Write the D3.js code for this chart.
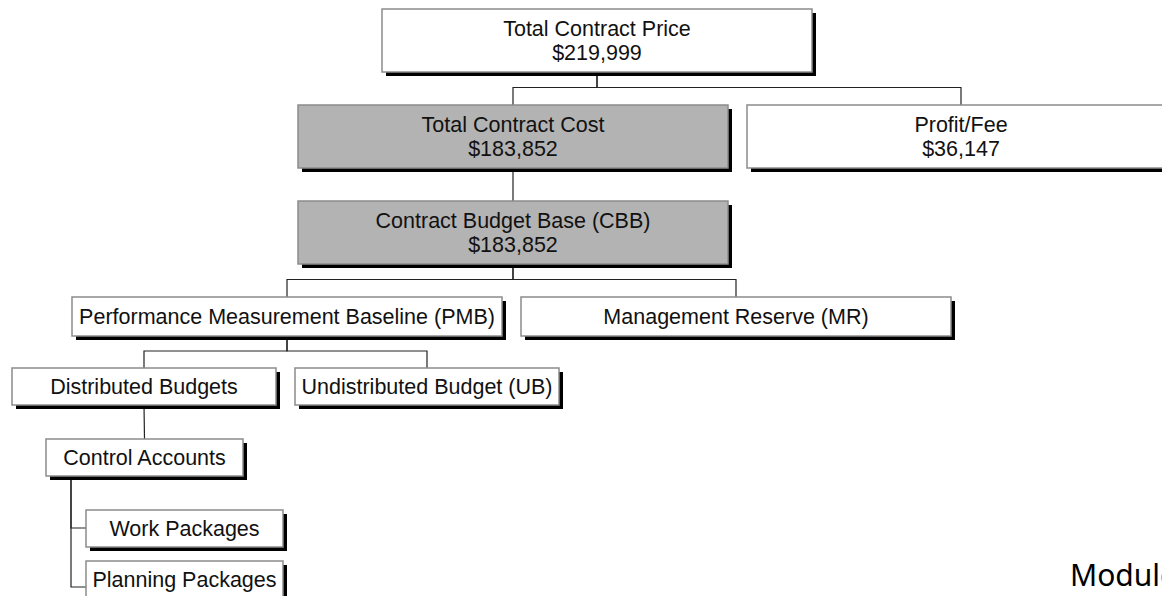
<!DOCTYPE html>
<html lang="en">
<head>
    <meta charset="UTF-8">
    <title>Contract Budget Breakdown</title>
    <script src="https://d3js.org/d3.v7.min.js"></script>
    <style>
        body { margin: 0; background: #fff; }
        .box-label {
            font-family: "Liberation Sans", Arial, sans-serif;
            font-size: 21.5px;
            fill: #111;
        }
        .footer {
            font-family: "Noto Sans", "Open Sans", sans-serif;
            font-size: 30px;
            fill: #000;
        }
    </style>
</head>
<body>
<script>
    // chart data
    const names = ["Total Contract Price", "Total Contract Cost", "Profit/Fee",
        "Contract Budget Base (CBB)", "Performance Measurement Baseline (PMB)",
        "Management Reserve (MR)", "Distributed Budgets", "Undistributed Budget (UB)",
        "Control Accounts", "Work Packages", "Planning Packages"];
    const amounts = ["$219,999", "$183,852", "$36,147", "$183,852",
        null, null, null, null, null, null, null];
    const parents = [null, 0, 0, 1, 3, 3, 4, 4, 6, 8, 8];
    const shaded = [false, true, false, true, false, false, false, false, false, false, false];
    const footerText = "Module";

    // layout (box left/top/width/height + how the connector joins it)
    const layout = [
        {x: 382, y: 9, w: 430, h: 63},
        {x: 298, y: 105, w: 430, h: 63},
        {x: 747, y: 105, w: 428, h: 63},
        {x: 298, y: 201, w: 430, h: 63},
        {x: 72, y: 297, w: 430, h: 39},
        {x: 521, y: 297, w: 430, h: 39},
        {x: 12, y: 368, w: 264, h: 37},
        {x: 295, y: 368, w: 264, h: 37},
        {x: 46, y: 439, w: 197, h: 37},
        {x: 86, y: 510, w: 197, h: 37, side: true, joinY: 528},
        {x: 86, y: 561, w: 197, h: 37, side: true, joinY: 587}
    ];
    const sideX = 71;   // vertical spine for side-attached children

    const width = 1162, height = 596;
    const svg = d3.select("body").append("svg")
        .attr("width", width)
        .attr("height", height);

    const nodes = names.map((n, i) => ({
        id: i, name: n, amount: amounts[i], parent: parents[i], shaded: shaded[i], ...layout[i]
    }));

    const links = nodes.filter(d => d.parent !== null).map(d => ({source: nodes[d.parent], target: d}));

    function linkPath(l) {
        const s = l.source, t = l.target;
        const sx = s.x + s.w / 2, sy = s.y + s.h;
        if (t.side) {
            return `M ${sideX} ${sy} L ${sideX} ${t.joinY} L ${t.x} ${t.joinY}`;
        }
        const tx = t.x + t.w / 2;
        if (Math.abs(tx - sx) < 1) {
            return `M ${sx} ${sy} L ${tx} ${t.y}`;
        }
        const midY = sy + (t.y - sy) * 0.5 - 1;
        return `M ${sx} ${sy} L ${sx} ${midY} L ${tx} ${midY} L ${tx} ${t.y}`;
    }

    svg.append("g")
        .attr("fill", "none")
        .attr("stroke", "#222")
        .attr("stroke-width", 1.2)
        .selectAll("path")
        .data(links)
        .join("path")
        .attr("d", linkPath);

    const node = svg.append("g")
        .selectAll("g")
        .data(nodes)
        .join("g")
        .attr("transform", d => `translate(${d.x},${d.y})`);

    // drop shadow
    node.append("rect")
        .attr("x", 4).attr("y", 4)
        .attr("width", d => d.w).attr("height", d => d.h)
        .attr("fill", "#000");

    node.append("rect")
        .attr("width", d => d.w).attr("height", d => d.h)
        .attr("fill", d => d.shaded ? "#b3b3b3" : "#fff")
        .attr("stroke", "#8c8c8c")
        .attr("stroke-width", 1.5);

    const labels = node.append("text")
        .attr("class", "box-label")
        .attr("text-anchor", "middle")
        .attr("x", d => d.w / 2);

    labels.each(function (d) {
        const t = d3.select(this);
        const lines = d.amount ? [d.name, d.amount] : [d.name];
        const lineH = 24;
        const y0 = d.h / 2 - (lines.length - 1) * lineH / 2;
        lines.forEach((s, i) => {
            t.append("tspan")
                .attr("x", d.w / 2)
                .attr("y", y0 + i * lineH)
                .attr("dy", "0.36em")
                .text(s);
        });
    });

    // reference shows this caption clipped at the right edge
    svg.append("text")
        .attr("class", "footer")
        .attr("x", 1070)
        .attr("y", 586)
        .text(footerText);
</script>
</body>
</html>
